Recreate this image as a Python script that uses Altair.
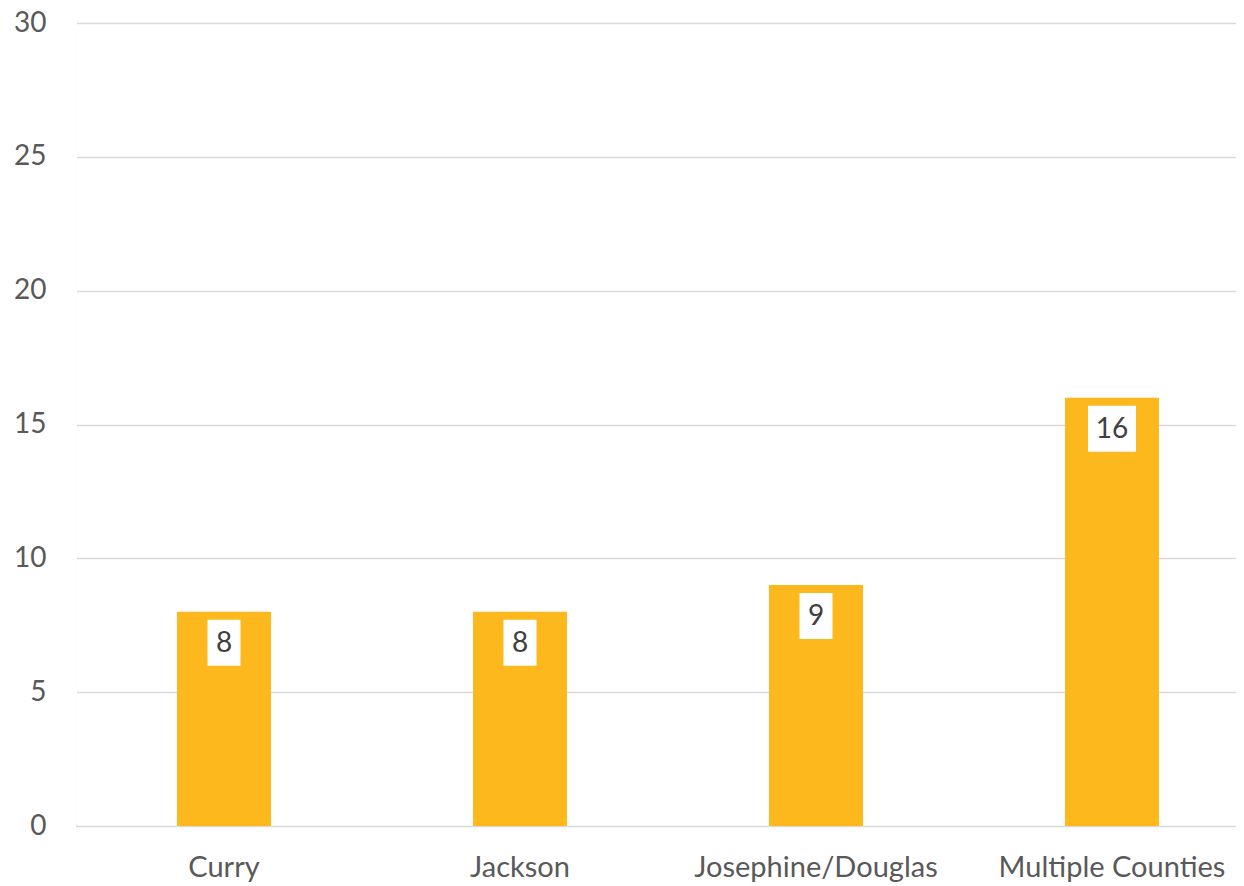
import altair as alt
import pandas as pd

categories = ["Curry", "Jackson", "Josephine/Douglas", "Multiple Counties"]
values = [8, 8, 9, 16]
y_ticks = [0, 5, 10, 15, 20, 25, 30]

df = pd.DataFrame({"county": categories, "count": values})

FONT = "Lato"

x_axis = alt.Axis(labelAngle=0, labelFontSize=29, labelColor="#595959", labelFont=FONT,
                  labelPadding=27, labelLimit=0, ticks=False, domain=False, grid=False)
y_axis = alt.Axis(values=y_ticks, labelFontSize=28, labelColor="#595959",
                  labelFont=FONT, labelPadding=30, ticks=False, domain=False,
                  gridColor="#D9D9D9", gridWidth=1.5)

x = alt.X("county:N", sort=categories, title=None,
          scale=alt.Scale(range=[0, 1184], paddingInner=0.68, paddingOuter=0.34),
          axis=x_axis)
y = alt.Y("count:Q", title=None, scale=alt.Scale(domain=[0, 30]), axis=y_axis)

base = alt.Chart(df)

bars = base.mark_bar(color="#FDB81E", width=94).encode(x=x, y=y)

boxes = base.transform_calculate(
    boxw="length(toString(datum.count)) * 15 + 18"
).mark_tick(color="white", thickness=46, opacity=1, yOffset=31).encode(
    x=x,
    y=y,
    size=alt.Size("boxw:Q", scale=None, legend=None),
)

labels = base.mark_text(color="#404040", fontSize=28, font=FONT, dy=32, baseline="middle").encode(
    x=x,
    y=y,
    text=alt.Text("count:Q"),
)

# white cover for the stray left border of the view
cover = base.mark_rule(color="white", strokeWidth=3).encode(
    x=alt.value(-1), y=alt.value(-2), y2=alt.value(802)
)

chart = alt.layer(bars, boxes, labels, cover).properties(
    width=1160, height=803,
    autosize=alt.AutoSizeParams(type="none"),
    padding={"left": 68, "top": 15, "right": 0, "bottom": 60},
).configure_view(stroke="transparent", strokeWidth=0).configure(background="white")

chart.save("out.html", embed_options={"renderer": "svg", "actions": False})
